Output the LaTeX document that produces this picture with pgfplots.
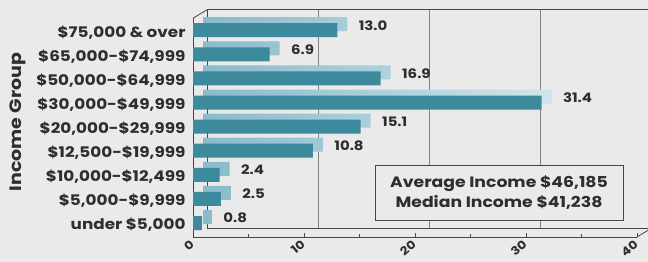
\documentclass[border=0pt]{standalone}
\usepackage{pgfplots}
\pgfplotsset{compat=1.18}
\usepackage{pgfplotstable}
\usepackage{fontspec}
\setmainfont{Poppins}[FakeStretch=1.15]
\definecolor{bg}{RGB}{234,234,234}
\definecolor{barfront}{RGB}{60,138,155}
\definecolor{bartop}{RGB}{150,196,210}
\definecolor{txt}{RGB}{45,45,50}
\definecolor{gridc}{RGB}{130,130,130}
\definecolor{framec}{RGB}{70,70,70}

\pgfplotstableread{
pos val
0 0.8
1 2.5
2 2.4
3 10.8
4 15.1
5 31.4
6 16.9
7 6.9
8 13.0
}\datatable

\begin{document}
\begin{tikzpicture}
\fill[bg] (0,0) rectangle (648bp,262bp);
\path[use as bounding box] (0,0) rectangle (648bp,262bp);
% back wall
\begin{axis}[
  at={(207bp,33.5bp)}, anchor=south west, scale only axis,
  x=11.1bp, y=24.1bp, xmin=0, xmax=40, ymin=-0.58, ymax=8.5,
  xtick=\empty, ytick=\empty,
  axis line style={framec, line width=0.8pt},
  clip=false,
]
\foreach \g in {10,20,30} {
  \edef\tmp{\noexpand\draw[gridc, line width=0.6pt] (axis cs:\g,-0.58) -- (axis cs:\g,8.5);}
  \tmp
}
\end{axis}
% front
\begin{axis}[
  at={(193bp,25bp)}, anchor=south west, scale only axis,
  x=11.1bp, y=24.1bp, xmin=0, xmax=40, ymin=-0.58, ymax=8.5,
  axis x line*=bottom, axis y line*=left,
  axis line style={framec, line width=0.8pt, -},
  xtick={0,10,20,30,40}, minor xtick={5,15,25,35},
  tick align=inside, major tick length=4bp, minor tick length=3bp,
  xtick style={framec, line width=0.6pt},
  ytick={0,...,8},
  yticklabels={{under \$5,000},{\$5,000-\$9,999},{\$10,000-\$12,499},{\$12,500-\$19,999},{\$20,000-\$29,999},{\$30,000-\$49,999},{\$50,000-\$64,999},{\$65,000-\$74,999},{\$75,000 \& over}},
  ytick style={draw=none},
  /pgf/number format/assume math mode=true,
  yticklabel style={font=\fontsize{14.6bp}{16bp}\selectfont\bfseries, text=txt, yshift=-2bp},
  xticklabel style={font=\fontsize{11.5bp}{13bp}\selectfont\bfseries, text=txt, rotate=40, anchor=east, xshift=-1bp, yshift=-4bp},
  clip=false,
  xbar, bar width=14bp,
]
\addplot[xbar, bar shift=0pt, left color=bartop!85!barfront, right color=bartop!45!white, draw=none, xshift=10bp, yshift=6bp] table[x=val, y=pos] {\datatable};
\addplot[xbar, bar shift=0pt, fill=barfront, draw=none,
  nodes near coords,
  nodes near coords style={anchor=west, xshift=18bp, yshift=5bp, text=txt,
    font=\fontsize{13bp}{15bp}\selectfont\bfseries,
    /pgf/number format/.cd, fixed, fixed zerofill, precision=1, assume math mode=true},
] table[x=val, y=pos] {\datatable};
\draw[framec, line width=0.8pt] (axis cs:0,8.5) -- ++(14bp,8.3bp);
\draw[framec, line width=0.8pt] (axis cs:40,-0.58) -- ++(14bp,8.5bp);
\end{axis}
\node[rotate=90, text=txt, font=\fontsize{16.5bp}{18bp}\selectfont\bfseries] at (18bp,140bp) {Income Group};
\node[draw=framec, line width=0.7pt, fill=bg, minimum width=248bp, minimum height=55bp, align=center, text=txt,
  font=\fontsize{15bp}{20bp}\selectfont\bfseries] at (499bp,69.5bp) {Average Income \$46,185\\Median Income \$41,238};
\end{tikzpicture}
\end{document}
